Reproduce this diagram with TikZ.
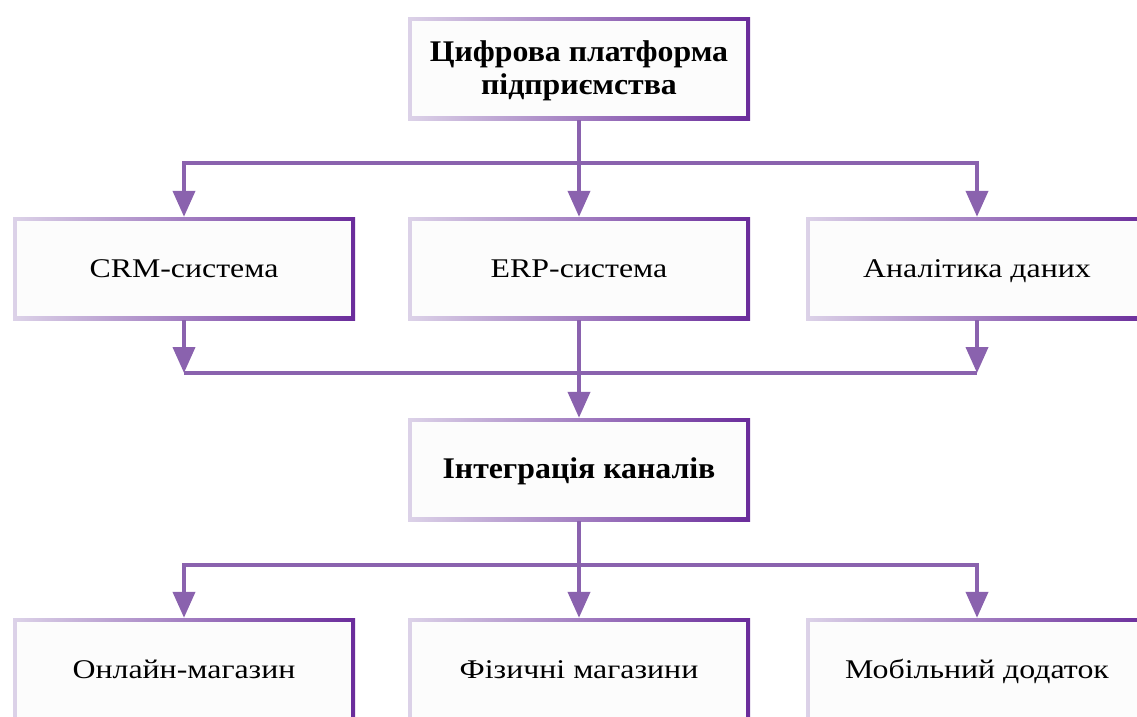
\documentclass[tikz,border=0pt]{standalone}
\usepackage{fontspec}
\setmainfont{Liberation Serif}[FakeStretch=1.18, BoldFeatures={FakeStretch=1.06}]
\usetikzlibrary{arrows.meta}
\definecolor{lav}{HTML}{DCD2E8}
\definecolor{dpur}{HTML}{6A2C9B}
\definecolor{connc}{HTML}{8A62AE}
\definecolor{boxfill}{HTML}{FCFCFC}
\tikzset{
 box/.style={rectangle, minimum width=342pt, minimum height=103pt, inner sep=0pt,
   left color=lav, right color=dpur, align=center, font=\fontsize{27}{31}\selectfont,
   text height=24pt, text depth=6pt,
   path picture={\fill[boxfill] ([xshift=4pt,yshift=-4pt]path picture bounding box.north west) rectangle ([xshift=-4pt,yshift=4pt]path picture bounding box.south east);}},
 bbox/.style={box, font=\bfseries\fontsize{30}{32}\selectfont, text height=25pt, text depth=7pt},
 tbox/.style={box, font=\bfseries\fontsize{30}{33}\selectfont, text height=, text depth=},
 conn/.style={draw=connc, line width=4pt},
 arr/.style={conn, -{Triangle[width=22pt,length=26pt]}},
}
\begin{document}
\begin{tikzpicture}[x=1pt,y=-1pt]
\useasboundingbox (0,0) rectangle (1137,716);
\node[tbox] (top) at (579,68.5) {\rule{0pt}{25pt}Цифрова платформа\\підприємства};
\node[box] (crm) at (184,268.5) {CRM-система};
\node[box] (erp) at (579,268.5) {ERP-система};
\node[box] (an) at (977,268.5) {Аналітика даних};
\node[bbox] (int) at (579,469.5) {Інтеграція каналів};
\node[box] (onl) at (184,669.5) {Онлайн-магазин};
\node[box] (fiz) at (579,669.5) {Фізичні магазини};
\node[box] (mob) at (977,669.5) {Мобільний додаток};
\coordinate (s1m) at (579,163);
\coordinate (j2l) at (184,373);
\coordinate (j2r) at (977,373);
\coordinate (s3m) at (579,565);
\draw[arr] (top.south) -- (erp.north);
\draw[arr] (s1m) -| (crm.north);
\draw[arr] (s1m) -| (an.north);
\draw[arr] (crm.south) -- (j2l);
\draw[arr] (an.south) -- (j2r);
\draw[conn] (j2l) -- (j2r);
\draw[arr] (erp.south) -- (int.north);
\draw[arr] (int.south) -- (fiz.north);
\draw[arr] (s3m) -| (onl.north);
\draw[arr] (s3m) -| (mob.north);
\end{tikzpicture}
\end{document}
